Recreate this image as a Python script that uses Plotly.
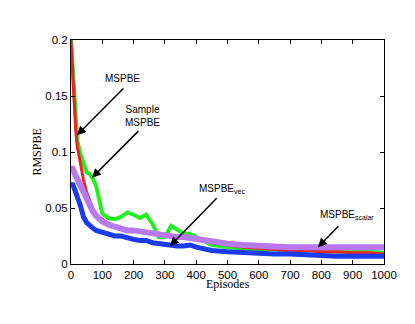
import plotly.graph_objects as go

# Episode samples
episodes = [0, 5, 10, 15, 20, 30, 40, 50, 60, 70, 80, 90, 100, 120, 140, 160, 180, 200,
            220, 240, 260, 280, 300, 320, 340, 360, 380, 400, 450, 500, 550, 600, 650,
            700, 750, 800, 850, 900, 950, 1000]

mspbe = [0.200, 0.170, 0.140, 0.120, 0.105, 0.088, 0.075, 0.064, 0.056, 0.049, 0.045,
         0.042, 0.040, 0.036, 0.034, 0.032, 0.031, 0.030, 0.029, 0.028, 0.028, 0.027,
         0.026, 0.025, 0.025, 0.024, 0.023, 0.022, 0.019, 0.017, 0.015, 0.014, 0.013,
         0.012, 0.012, 0.011, 0.011, 0.010, 0.010, 0.009]

sample_mspbe = [0.200, 0.175, 0.150, 0.125, 0.110, 0.098, 0.090, 0.082, 0.080, 0.076,
                0.070, 0.058, 0.045, 0.041, 0.040, 0.042, 0.046, 0.044, 0.041, 0.044,
                0.036, 0.024, 0.024, 0.034, 0.030, 0.027, 0.027, 0.024, 0.017, 0.015,
                0.014, 0.013, 0.013, 0.012, 0.012, 0.012, 0.011, 0.011, 0.011, 0.010]

mspbe_vec = [0.070, 0.072, 0.068, 0.065, 0.060, 0.052, 0.042, 0.037, 0.034, 0.032,
             0.030, 0.029, 0.028, 0.026, 0.025, 0.025, 0.023, 0.022, 0.021, 0.021,
             0.019, 0.018, 0.017, 0.017, 0.016, 0.016, 0.017, 0.015, 0.012, 0.011,
             0.010, 0.010, 0.009, 0.009, 0.008, 0.008, 0.007, 0.007, 0.007, 0.007]

mspbe_scalar = [0.085, 0.085, 0.082, 0.079, 0.076, 0.070, 0.063, 0.057, 0.051, 0.047,
                0.043, 0.040, 0.038, 0.035, 0.033, 0.031, 0.030, 0.030, 0.029, 0.028,
                0.027, 0.026, 0.025, 0.025, 0.024, 0.024, 0.023, 0.022, 0.020, 0.018,
                0.017, 0.016, 0.016, 0.015, 0.015, 0.015, 0.015, 0.015, 0.015, 0.015]

y_ticks = [0, 0.05, 0.1, 0.15, 0.2]
y_tick_labels = ["0", "0.05", "0.1", "0.15", "0.2"]
x_ticks = list(range(0, 1001, 100))

fig = go.Figure()

# Drawn back to front.
series = [
    (sample_mspbe, "#22ee22", 4),
    (mspbe, "#ee2222", 3),
    (mspbe_scalar, "#b878f0", 6),
    (mspbe_vec, "#1a3cf0", 5),
]
for values, color, width in series:
    fig.add_trace(go.Scatter(
        x=episodes,
        y=values,
        mode="lines",
        line=dict(color=color, width=width),
        showlegend=False,
    ))

# Arrows: (tail x, tail y, head x, head y)
arrows = [
    (172, 0.158, 19, 0.115),
    (220, 0.120, 67, 0.077),
    (470, 0.060, 316, 0.016),
    (859, 0.035, 789, 0.015),
]
for tx, ty, hx, hy in arrows:
    fig.add_annotation(
        x=hx, y=hy, ax=tx, ay=ty,
        xref="x", yref="y", axref="x", ayref="y",
        text="", showarrow=True,
        arrowhead=2, arrowsize=1.2, arrowwidth=1.5, arrowcolor="black",
    )

# Labels
labels = [
    (163, 0.166, "MSPBE"),
    (230, 0.132, "Sample<br>MSPBE"),
    (482, 0.067, "MSPBE<sub>vec</sub>"),
    (882, 0.044, "MSPBE<sub>scalar</sub>"),
]
for lx, ly, text in labels:
    fig.add_annotation(
        x=lx, y=ly, xref="x", yref="y", text=text, showarrow=False,
        font=dict(family="Liberation Sans, Arial", size=10, color="black"),
    )

# Axis titles placed by hand (MATLAB look)
title_font = dict(family="Liberation Serif, Times New Roman", size=12, color="black")
fig.add_annotation(x=0.5, y=-0.09, xref="paper", yref="paper",
                   xanchor="center", yanchor="middle",
                   text="Episodes", showarrow=False, font=title_font)
fig.add_annotation(x=-0.11, y=0.5, xref="paper", yref="paper", textangle=-90,
                   xanchor="center", yanchor="middle",
                   text="RMSPBE", showarrow=False, font=title_font)

axis_style = dict(
    showline=True,
    linecolor="black",
    linewidth=1,
    mirror="ticks",
    ticks="inside",
    ticklen=4,
    tickcolor="black",
    showgrid=False,
    zeroline=False,
    automargin=False,
    tickfont=dict(family="Liberation Sans, Arial", size=11.5, color="black"),
)

# The page body adds 8px, so margins are offset to land the frame at 71..384 x 40..264.
fig.update_layout(
    width=415,
    height=324,
    margin=dict(l=63, r=39, t=32, b=68),
    paper_bgcolor="white",
    plot_bgcolor="white",
    xaxis=dict(range=[0, 1000], tickvals=x_ticks, **axis_style),
    yaxis=dict(range=[0, 0.2], tickvals=y_ticks, ticktext=y_tick_labels, **axis_style),
)

fig.write_html("out.html")
